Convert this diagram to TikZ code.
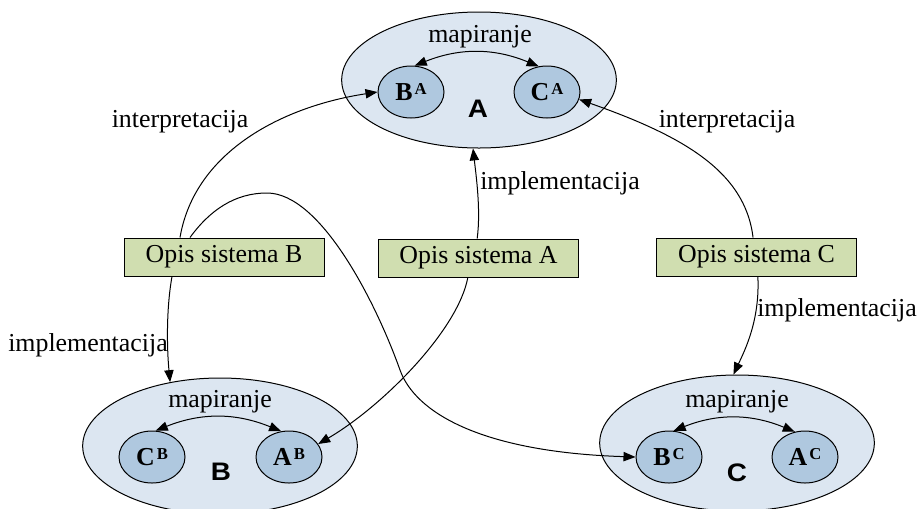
\documentclass[tikz,border=0pt]{standalone}
\usepackage{fontspec}
\setmainfont{Liberation Serif}
\newfontfamily\labelfont{Liberation Sans}
\usetikzlibrary{arrows.meta,shapes.geometric}
\definecolor{outerfill}{HTML}{DCE6F1}
\definecolor{innerfill}{HTML}{AFC8DF}
\definecolor{descfill}{HTML}{D0DEB0}
% model name with its owner as a raised index
\newcommand\modelname[2]{#1\kern1.5pt\raisebox{4.6pt}{\fontsize{12.5}{14}\selectfont #2}}
% wide bold system letter
\newcommand\sysletter[1]{\scalebox{1.1}[1]{#1}}
\begin{document}
\begin{tikzpicture}[x=0.75pt,y=-0.75pt,
  every node/.style={font=\fontsize{19.4}{23}\selectfont},
  system/.style={ellipse, draw, line width=0.75pt, fill=outerfill,
    minimum width=206pt, minimum height=102pt, inner sep=0pt},
  model/.style={ellipse, draw, line width=0.75pt, fill=innerfill,
    minimum width=49.5pt, minimum height=39pt, inner sep=0pt,
    font=\fontsize{19.4}{23}\selectfont\bfseries},
  desc/.style={rectangle, draw, line width=0.75pt, fill=descfill,
    minimum width=150pt, minimum height=28.5pt, inner sep=0pt},
  syslabel/.style={font=\fontsize{19}{21}\selectfont\labelfont\bfseries},
  link/.style={line width=0.75pt, -{Triangle[length=9pt,width=7pt]}},
  maplink/.style={line width=0.75pt,
    {Triangle[length=9pt,width=7pt]}-{Triangle[length=9pt,width=7pt]}},
]
\useasboundingbox (0,0) rectangle (919,508);

% systems
\node[system] (eA) at (479,80) {};
\node[system] (eB) at (220,446) {};
\node[system] (eC) at (737,443) {};

% models inside each system
\node[model] (BA) at (411,92) {\modelname{B}{A}};
\node[model] (CA) at (547,92) {\modelname{C}{A}};
\node[model] (CB) at (152,457) {\modelname{C}{B}};
\node[model] (AB) at (289,457) {\modelname{A}{B}};
\node[model] (BC) at (669,457) {\modelname{B}{C}};
\node[model] (AC) at (805,457) {\modelname{A}{C}};

% system names
\node[syslabel] (nA) at (478,109) {\sysletter{A}};
\node[syslabel] (nB) at (221,472) {\sysletter{B}};
\node[syslabel] (nC) at (737,473) {\sysletter{C}};

% mapping between models
\node (mA) at (480,37) {mapiranje};
\node (mB) at (220,402) {mapiranje};
\node (mC) at (737,402) {mapiranje};
\draw[maplink] (BA.82) to[bend left=22] (CA.108);
\draw[maplink] (CB.82) to[bend left=22] (AB.107);
\draw[maplink] (BC.80) to[bend left=22] (AC.112);

% system descriptions
\node[desc] (dB) at (224,257) {Opis sistema B};
\node[desc] (dA) at (478.5,258) {Opis sistema A};
\node[desc] (dC) at (756.5,257) {Opis sistema C};

% interpretation and implementation links
\draw[link] ([xshift=-33pt]dB.north) .. controls (195,150) and (285,106) .. (BA.west);
\draw[link] ([xshift=-25.5pt]dB.north) .. controls (210,210) and (235,193) .. (267,193)
  .. controls (320,193) and (375,300) .. (400,370)
  .. controls (415,412) and (480,452) .. (BC.west);
\draw[link] ([xshift=-1pt]dA.north) .. controls (481,210) and (476,175) .. (eA.265);
\draw[link] ([xshift=-8pt]dA.south) .. controls (458,330) and (383,406) .. (AB.24);
\draw[link] ([xshift=-2.6pt]dC.north) .. controls (745,170) and (680,135) .. (CA.-13);
\draw[link] ([xshift=1pt]dC.south) .. controls (760,320) and (745,350) .. (eC.93);
\draw[link] ([xshift=-39pt]dB.south) .. controls (166,310) and (167,350) .. (eB.128);

% link labels
\node (iB) at (180,122) {interpretacija};
\node (iC) at (727,122) {interpretacija};
\node (pA) at (560,183) {implementacija};
\node (pB) at (88,345) {implementacija};
\node (pC) at (837,310) {implementacija};
\end{tikzpicture}
\end{document}
